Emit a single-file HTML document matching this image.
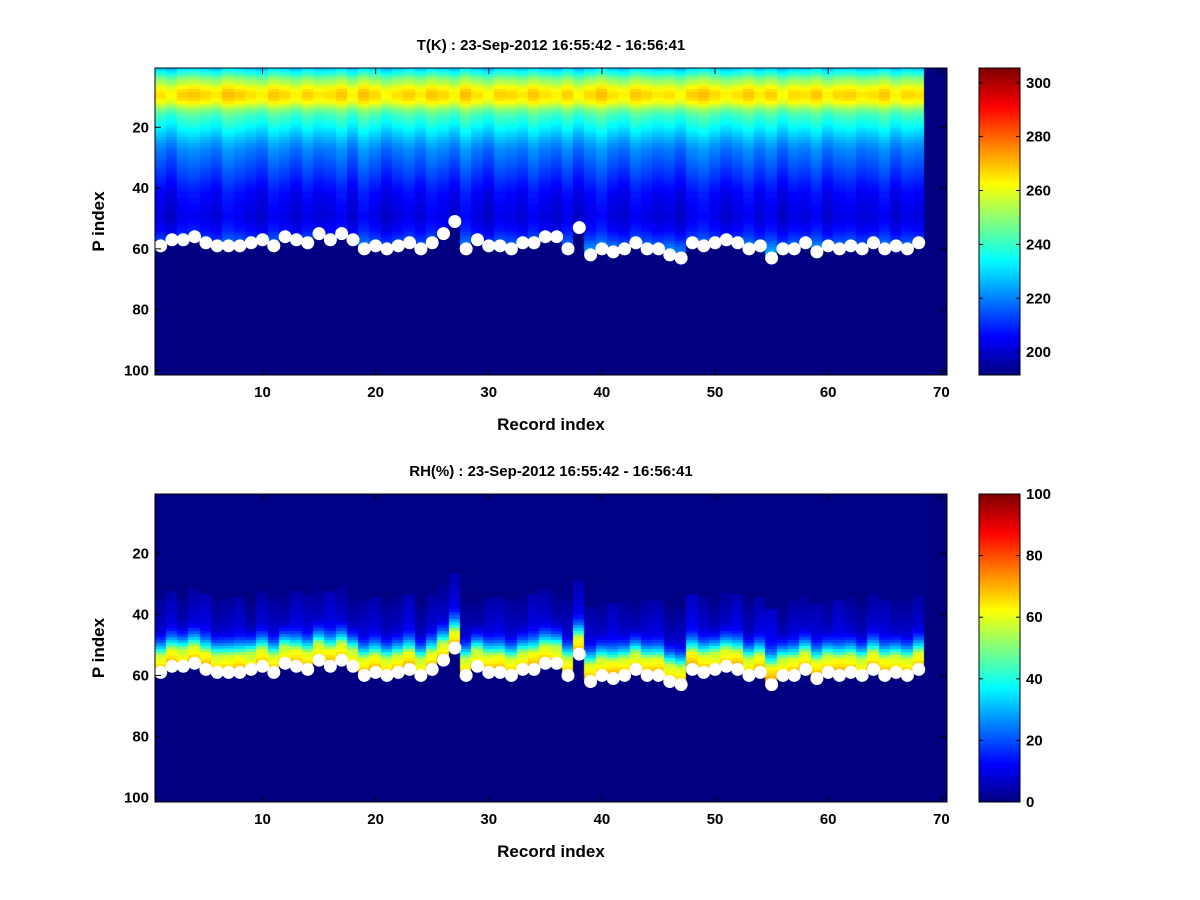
<!DOCTYPE html>
<html><head><meta charset="utf-8"><style>
body{margin:0;background:#fff;width:1200px;height:900px;overflow:hidden;font-family:"Liberation Sans",sans-serif}
canvas,svg{position:absolute;left:0;top:0}
</style></head><body>
<canvas id="cv" width="1200" height="900"></canvas>
<svg id="sv" width="1200" height="900" font-family="Liberation Sans, sans-serif" font-weight="bold"></svg>
<script>
// surface P index per record (white markers)
const surface=[59,57,57,56,58,59,59,59,58,57,59,56,57,58,55,57,55,57,60,59,60,59,58,60,58,55,51,60,57,59,59,60,58,58,56,56,60,53,62,60,61,60,58,60,60,62,63,58,59,58,57,58,60,59,63,60,60,58,61,59,60,59,60,58,60,59,60,58];
// temperature profile by P index (rows 1..63)
const profileT=[230,236,242,248,252,256,261,264,266,266,264,261,256,250,246,242,240,238,236,234,232,230,228,226,224,222,220,219,218,217,216,215,214,213,212,211,210,209,208,207,206,205,205,204,204,203,203,203,202,202,203,204,205,206,208,210,212,215,218,220,222,224,226];
// per-record temperature offsets
const colOffT=[0,-3,2,3,1,-1,4,2,0,-2,3,1,-2,2,-1,0,3,-2,4,1,-3,0,2,-1,3,1,-2,4,0,-3,2,1,-1,3,0,-2,2,-3,1,4,0,-2,3,1,-1,0,-3,2,4,1,-2,0,3,-1,2,-3,1,0,3,-2,1,2,-1,0,3,-2,1,0];
// RH by distance above surface (d=0,1,...)
const rhByDepth=[68,65,62,60,58,50,40,32,26,20,16,12,9,8,7,6,6,5,5,4,4,3,3,2];
const colOffRH=[0,2,-2,1,3,-1,0,2,-3,1,0,-2,2,1,-1,3,0,-2,1,2,-1,0,3,-2,1,0,2,-1,-3,1,2,0,-1,3,1,-2,0,2,1,-1,3,0,-2,1,2,-1,0,4,1,-2,0,3,-1,2,5,-2,1,0,2,-1,3,0,-2,1,2,-1,0,1];
const xTicks=[10,20,30,40,50,60,70], yTicks=[20,40,60,80,100];
const cbT=[200,220,240,260,280,300], cbRH=[0,20,40,60,80,100];

const cv=document.getElementById('cv').getContext('2d');
const sv=document.getElementById('sv');
const NS='http://www.w3.org/2000/svg';
function jet(t){t=Math.max(0,Math.min(1,t));const c=v=>Math.round(255*Math.max(0,Math.min(1,v)));
return `rgb(${c(1.5-Math.abs(4*t-3))},${c(1.5-Math.abs(4*t-2))},${c(1.5-Math.abs(4*t-1))})`;}
function el(tag,attrs,name,txt){const e=document.createElementNS(NS,tag);for(const k in attrs)e.setAttribute(k,attrs[k]);


if(txt!==undefined)e.textContent=txt;sv.appendChild(e);return e;}
const AX={L:155,R:947,W:792};
const NR=surface.length, NP=101;
function panel(top,h,vmin,vmax,valFn,title,cbt,pref){
  const X=v=>AX.L+(v-0.5)/70*AX.W, Y=p=>top+(p-0.5)/NP*h;
  cv.fillStyle=jet(0);cv.fillRect(AX.L,top,AX.W,h);
  for(let i=0;i<NR;i++)for(let p=1;p<=NP;p++){const v=valFn(i,p);if(v===null)continue;
    cv.fillStyle=jet((v-vmin)/(vmax-vmin));const x0=Math.floor(X(i+0.5)),x1=Math.floor(X(i+1.5)),y0=Math.floor(Y(p-0.5)),y1=Math.floor(Y(p+0.5));
    cv.fillRect(x0,y0,x1-x0,y1-y0);}
  const cbL=979,cbW=41;
  for(let y=0;y<h;y++){cv.fillStyle=jet(1-y/h);cv.fillRect(cbL,top+y,cbW,1);}
  for(let i=0;i<NR;i++){el('circle',{cx:X(i+1),cy:Y(surface[i]),r:6.5,fill:'#fff'},pref+'surface-marker');}
  el('rect',{x:AX.L,y:top,width:AX.W,height:h,fill:'none',stroke:'#000','stroke-width':1},pref+'axes-frame');
  el('rect',{x:cbL,y:top,width:cbW,height:h,fill:'none',stroke:'#000','stroke-width':1},pref+'colorbar-frame');
  xTicks.forEach(t=>{const x=X(t);el('line',{x1:x,x2:x,y1:top+h,y2:top+h-6,stroke:'#000'},pref+'x-tick');
    el('line',{x1:x,x2:x,y1:top,y2:top+6,stroke:'#000'},pref+'x-tick-top');
    el('text',{x:x,y:top+h+22,'text-anchor':'middle','font-size':15},pref+'x-tick-label',t);});
  yTicks.forEach(t=>{const y=Y(t);el('line',{x1:AX.L,x2:AX.L+6,y1:y,y2:y,stroke:'#000'},pref+'y-tick');
    el('line',{x1:AX.R-6,x2:AX.R,y1:y,y2:y,stroke:'#000'},pref+'y-tick-right');
    el('text',{x:AX.L-6,y:y+5,'text-anchor':'end','font-size':15},pref+'y-tick-label',t);});
  cbt.forEach(t=>{const y=top+h-(t-vmin)/(vmax-vmin)*h;
    el('line',{x1:cbL,x2:cbL+4,y1:y,y2:y,stroke:'#000'},pref+'cb-tick');
    el('line',{x1:cbL+cbW-4,x2:cbL+cbW,y1:y,y2:y,stroke:'#000'},pref+'cb-tick-right');
    el('text',{x:cbL+cbW+6,y:y+5,'font-size':15},pref+'colorbar-label',t);});
  el('text',{x:551,y:top-18,'text-anchor':'middle','font-size':15},pref+'title',title);
  el('text',{x:551,y:top+h+55,'text-anchor':'middle','font-size':17},pref+'x-axis-title','Record index');
  el('text',{x:0,y:0,'text-anchor':'middle','font-size':17,transform:`translate(104,${top+h/2}) rotate(-90)`},pref+'y-axis-title','P index');
}
panel(68,307,191.5,305.5,(i,p)=>p<surface[i]&&p<=profileT.length?profileT[p-1]+colOffT[i]:null,
  'T(K) : 23-Sep-2012 16:55:42 - 16:56:41',cbT,'t-');
panel(494,308,0,100,(i,p)=>{if(p>=surface[i])return null;const d=surface[i]-1-p;const v=d<rhByDepth.length?rhByDepth[d]:0.5;return Math.max(0,v+(d<rhByDepth.length?colOffRH[i]:0));},
  'RH(%) : 23-Sep-2012 16:55:42 - 16:56:41',cbRH,'rh-');
</script>
</body></html>
